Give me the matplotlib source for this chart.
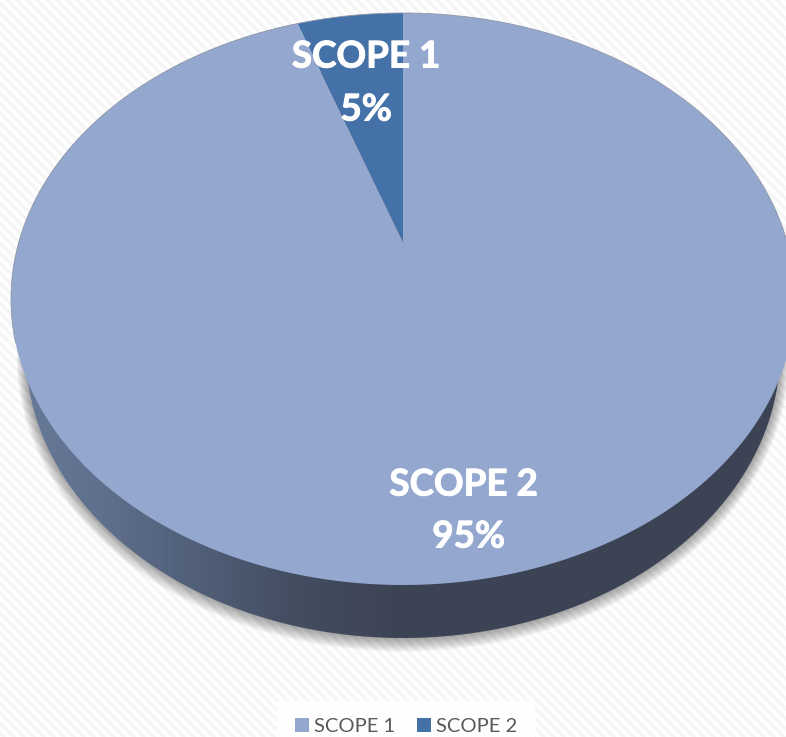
import numpy as np
import matplotlib
matplotlib.use("Agg")
import matplotlib.pyplot as plt
import matplotlib.patheffects as pe
from matplotlib.colors import LinearSegmentedColormap
from matplotlib.patches import Patch, Polygon

# data
categories = ["SCOPE 1", "SCOPE 2"]
shares = [5.3, 94.7]
wedge_colors = ["#4472A8", "#93A7CF"]
legend_colors = ["#93A7CF", "#4472A8"]

plt.rcParams["font.family"] = ["Lato", "DejaVu Sans"]

W, H = 786, 737
fig = plt.figure(figsize=(W / 100, H / 100), dpi=100)
ax = fig.add_axes([0, 0, 1, 1])
ax.set_xlim(0, W)
ax.set_ylim(H, 0)
ax.axis("off")

# striped slide background
yy, xx = np.mgrid[0:H, 0:W]
stripes = ((xx - yy) % 10 < 5).astype(float)
bg_cmap = LinearSegmentedColormap.from_list("bg", ["#F6F6F6", "#FFFFFF"])
ax.imshow(stripes, cmap=bg_cmap, extent=(0, W, H, 0), aspect="auto", zorder=0)

# 3d look: the flat disk is seen in perspective, apex sits above the ellipse centre
apex_x, apex_y = 403, 242
top_up, top_down = 229, 343
half_w = 392
k = (top_down - top_up) / (top_down + top_up)
B = top_up * (1 + k)
A = half_w * np.sqrt(1 - k ** 2)


def rim(theta):
    # theta is degrees counter clockwise from 12 o'clock
    t = np.radians(theta)
    x = -np.sin(t)
    y = np.cos(t)
    d = 1 + k * y
    return apex_x + A * x / d, apex_y - B * y / d


def ellipse(cx, cy, a, b, n=500):
    t = np.linspace(0, 2 * np.pi, n)
    return cx + a * np.cos(t), cy + b * np.sin(t)


# side wall of the pie
wall_cx, wall_cy, wall_a, wall_b = 403, 352, 377, 286

# soft shadow under the wall
for d in range(12, 0, -1):
    sx, sy = ellipse(wall_cx, wall_cy + d * 0.35, wall_a + d * 0.8, wall_b + d * 0.8)
    ax.fill(sx, sy, color="black", alpha=0.032, lw=0, zorder=1)

wx, wy = ellipse(wall_cx, wall_cy, wall_a, wall_b)
wall_clip = Polygon(np.column_stack([wx, wy]), closed=True, transform=ax.transData)
wall_cmap = LinearSegmentedColormap.from_list(
    "wall",
    [(0, "#667997"), (0.1, "#5F708D"), (0.23, "#505E77"), (0.36, "#434D60"),
     (0.5, "#3C4354"), (1, "#3C4354")],
)
gradient = np.linspace(0, 1, W).reshape(1, -1)
wall_im = ax.imshow(gradient, cmap=wall_cmap, extent=(wall_cx - 377, wall_cx + 377, H, 0),
                    aspect="auto", zorder=2)
wall_im.set_clip_path(wall_clip)

# top face, first slice goes counter clockwise from 12 o'clock
start = 0
for share, color in zip(shares, wedge_colors):
    sweep = share / sum(shares) * 360
    rx, ry = rim(np.linspace(start, start + sweep, 400))
    ax.fill(np.r_[apex_x, rx], np.r_[apex_y, ry], color=color, lw=0, zorder=3)
    start += sweep

# thin grey rim, only the upper part shows in the reference
ex, ey = rim(np.linspace(-110, 110, 500))
ax.plot(ex, ey, color="#8E96A6", lw=0.6, zorder=4)

# data labels
label_pos = [(366, 57, 110), (463.5, 485, 537)]
bold = [pe.withStroke(linewidth=0.7, foreground="white")]
for name, share, (lx, ly, py) in zip(categories, shares, label_pos):
    ax.text(lx, ly, name, color="white", fontsize=26.5, fontweight="bold",
            ha="center", va="center", zorder=5, path_effects=bold)
    ax.text(lx + (5 if share > 50 else 0), py, f"{share:.0f}%", color="white", fontsize=26.5,
            fontweight="bold", ha="center", va="center", zorder=5, path_effects=bold)

# legend
handles = [Patch(facecolor=c, edgecolor="none", label=n) for n, c in zip(categories, legend_colors)]
leg = ax.legend(handles=handles, ncol=2, loc="lower center", bbox_to_anchor=(406 / W, -0.021),
                frameon=True, fancybox=False, facecolor="#FEFEFE", edgecolor="none", framealpha=1,
                fontsize=14.5, labelcolor="#595959", handlelength=0.7, handleheight=0.7,
                handletextpad=0.25, columnspacing=1.1, borderpad=0.85, borderaxespad=0)
leg.set_zorder(6)

fig.savefig("out.png", dpi=100)
